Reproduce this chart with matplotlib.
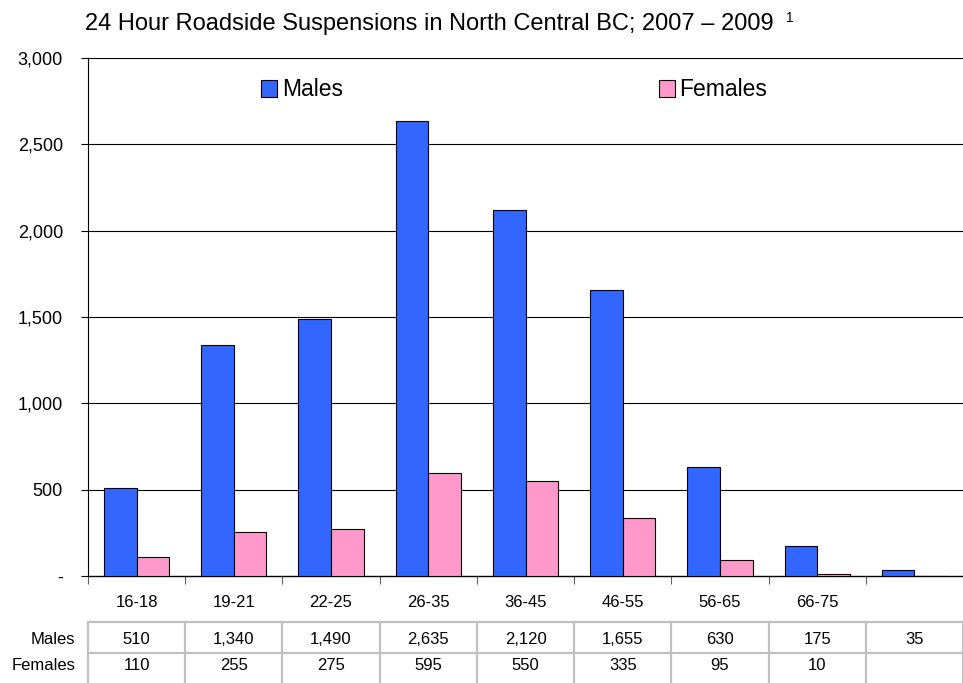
import numpy as np
import matplotlib.pyplot as plt
from matplotlib.patches import Patch

plt.rcParams['font.family'] = ['Liberation Sans', 'DejaVu Sans']

# date
grupe = ['16-18', '19-21', '22-25', '26-35', '36-45', '46-55', '56-65', '66-75', '']
males = [510, 1340, 1490, 2635, 2120, 1655, 630, 175, 35]
females = [110, 255, 275, 595, 550, 335, 95, 10, None]
y_ticks = [0, 500, 1000, 1500, 2000, 2500, 3000]

blue = '#3366FF'
pink = '#FF99CC'
grid_gray = '#C0C0C0'

fig = plt.figure(figsize=(9.63, 6.83), dpi=100)
# axa: de la x=88 la 963 px, y intre 58 si 576 px
ax = fig.add_axes([88/963, 107/683, 875/963, 518/683])

x = np.arange(len(grupe))
w = 0.335
f_vals = [v if v is not None else 0 for v in females]
ax.bar(x - w/2, males, w, color=blue, edgecolor='black', linewidth=0.8, zorder=3)
ax.bar(x + w/2, f_vals, w, color=pink, edgecolor='black', linewidth=0.8, zorder=3)

ax.set_xlim(-0.5, -0.5 + 875/98.6)
ax.set_ylim(0, 3000)

# axa y
ax.set_yticks(y_ticks)
ax.set_yticklabels(['-' if v == 0 else f'{v:,}' for v in y_ticks], fontsize=13)
for v in y_ticks[1:]:
    ax.axhline(v, color='black', linewidth=0.8, zorder=1)

# axa x: ticks pe granite, etichete la centru
ax.set_xticks(np.arange(len(grupe) + 1) - 0.5)
ax.set_xticklabels([])
ax.set_xticks(x, minor=True)
ax.set_xticklabels(grupe, minor=True, fontsize=12)
ax.tick_params(axis='x', which='minor', length=0, pad=13.5)
ax.tick_params(axis='x', which='major', length=6, width=0.8, color='#606060')
ax.tick_params(axis='y', length=5, width=0.8, pad=13)

for s in ['top', 'right']:
    ax.spines[s].set_visible(False)
ax.spines['left'].set_linewidth(0.8)
ax.spines['bottom'].set_linewidth(1.0)

# tabelul de sub grafic
trans = ax.get_xaxis_transform()
px = 1 / 518
y_top, y_mid, y_bot = -(622 - 576) * px, -(653 - 576) * px, -(690 - 576) * px
x_end = len(grupe) - 0.5
for b in np.arange(len(grupe) + 1) - 0.5:
    ax.plot([b, b], [y_top, y_bot], color=grid_gray, linewidth=1.6,
            transform=trans, clip_on=False)
for yy in [y_top, y_mid]:
    ax.plot([-0.5, x_end], [yy, yy], color=grid_gray, linewidth=1.6,
            transform=trans, clip_on=False)

y_m, y_f = -(639 - 576) * px, -(666 - 576) * px
lbl_x = -0.5 - 13 / 98.6
ax.text(lbl_x, y_m, 'Males', transform=trans, ha='right', va='center', fontsize=12)
ax.text(lbl_x, y_f, 'Females', transform=trans, ha='right', va='center', fontsize=12)
for i in range(len(grupe)):
    ax.text(x[i], y_m, f'{males[i]:,}', transform=trans, ha='center', va='center', fontsize=12)
    if females[i] is not None:
        ax.text(x[i], y_f, f'{females[i]:,}', transform=trans, ha='center', va='center', fontsize=12)

# legenda
handles = [Patch(facecolor=blue, edgecolor='black', linewidth=0.8, label='Males'),
           Patch(facecolor=pink, edgecolor='black', linewidth=0.8, label='Females')]
fig.legend(handles=handles, loc='center left', bbox_to_anchor=(261/963, 1 - 90/683),
           ncol=2, frameon=False, fontsize=16.5, handlelength=0.7, handleheight=0.7,
           handletextpad=0.2, columnspacing=13.8, borderaxespad=0, borderpad=0)

# titlu
fig.text(85/963, 1 - 30/683, '24 Hour Roadside Suspensions in North Central BC; 2007 \u2013 2009',
         fontsize=17, ha='left', va='baseline')
fig.text(786/963, 1 - 22/683, '1', fontsize=10, ha='left', va='baseline')

fig.savefig('out.png', dpi=100)
